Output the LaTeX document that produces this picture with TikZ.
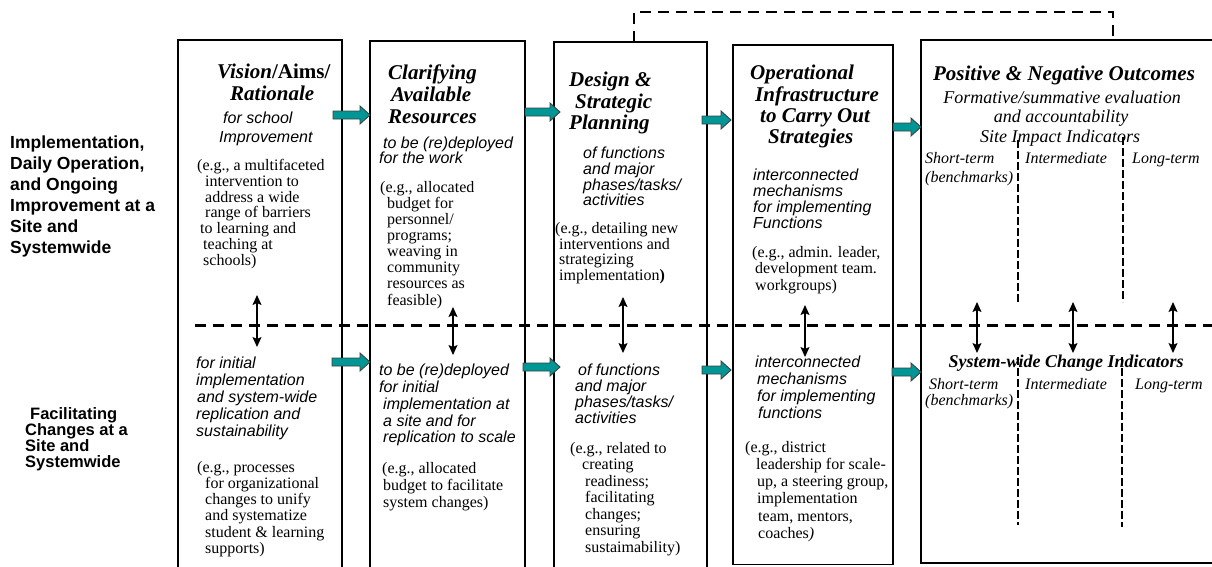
\documentclass[tikz,border=0pt]{standalone}
\usepackage{fontspec}
\setmainfont{Liberation Serif}
\setsansfont{Liberation Sans}
\usetikzlibrary{arrows.meta,calc}

\definecolor{arrowteal}{RGB}{0,150,150}

\tikzset{
  box/.style={draw, line width=1.6pt, inner sep=0pt, outer sep=0pt, anchor=north west},
  txt/.style={anchor=north west, inner sep=0pt, align=left,
    execute at begin node={\lineskiplimit=-30pt\relax}},
  head/.style={txt, font=\fontsize{21}{#1}\selectfont\rmfamily\bfseries\itshape},
  head/.default=21.5,
  sub/.style={txt, font=\fontsize{16}{#1}\selectfont\sffamily\itshape},
  sub/.default=16,
  eg/.style={txt, font=\fontsize{16}{#1}\selectfont\rmfamily},
  eg/.default=16,
  rowlab/.style={txt, font=\sffamily\bfseries},
  outhead/.style={inner sep=0pt, font=\fontsize{#1}{#1}\selectfont\rmfamily\bfseries\itshape},
  outc/.style={inner sep=0pt, font=\fontsize{18}{20}\selectfont\rmfamily\itshape},
  term/.style={anchor=base west, inner sep=0pt, font=\fontsize{16}{17}\selectfont\rmfamily\itshape},
  dbl/.style={line width=1.4pt,
    {Stealth[length=10pt,width=9pt,inset=2pt]}-{Stealth[length=10pt,width=9pt,inset=2pt]}},
  midline/.style={line width=3pt, dash pattern=on 11pt off 7pt},
  linkline/.style={line width=1.3pt, dash pattern=on 11pt off 7pt},
  colsep/.style={line width=1.5pt, dash pattern=on 8pt off 3pt},
  barrow/.style={draw=black!75, line width=0.9pt, fill=arrowteal, line join=miter},
}

% teal block arrow from the point #1 to the tip #2 (same height)
\newcommand\blockarrow[2]{%
  \draw[barrow] let \p1=#1, \p2=#2 in
    (\x1,\y1+4pt) -- (\x2-10pt,\y1+4pt) -- (\x2-10pt,\y1+9pt) -- (\x2,\y1)
    -- (\x2-10pt,\y1-9pt) -- (\x2-10pt,\y1-4pt) -- (\x1,\y1-4pt) -- cycle;}

\begin{document}
\begin{tikzpicture}[x=1pt, y=-1pt]
\useasboundingbox (0,0) rectangle (1212,566);
\fill[white] (0,0) rectangle (1212,566);
\begin{scope}
\clip (0,0) rectangle (1212,566);

% ---- column boxes
\node[box, minimum width=164, minimum height=532] (b1) at (178,40) {};
\node[box, minimum width=155, minimum height=531] (b2) at (370,41) {};
\node[box, minimum width=153, minimum height=530] (b3) at (554,42) {};
\node[box, minimum width=160, minimum height=519.5] (b4) at (733,45) {};
\node[box, minimum width=320, minimum height=523] (b5) at (921,40) {};

% ---- feedback link from outcomes back to planning
\coordinate (lk1) at (634,12);
\coordinate (lk2) at (1113,12);
\draw[linkline] (b3.north -| lk1) -- (lk1) -- (lk2) -- (b5.north -| lk2);

% ---- separation of the two rows
\draw[midline] (195,325) -- (1215,325);

% ---- term columns in the outcome box
\draw[colsep] (1018,140) -- (1018,303);
\draw[colsep] (1123,137) -- (1123,302);
\draw[colsep] (1018,357) -- (1018,525);
\draw[colsep] (1122,357) -- (1122,527);

% ---- row labels
\node[rowlab, font=\fontsize{17.5}{21}\selectfont\sffamily\bfseries] (lab1) at (10,136)
  {Implementation,\\Daily Operation,\\and Ongoing\\Improvement at a\\Site and\\Systemwide};
\node[rowlab, font=\fontsize{16.5}{16}\selectfont\sffamily\bfseries] (lab2) at (25,407)
  {\hspace*{5pt}Facilitating\\Changes at a\\Site and\\Systemwide};

% ---- column 1
\node[head] (h1) at (217,64) {Vision{\upshape/Aims/}\\\hspace*{13pt}Rationale};
\node[sub=19] (s1) at (219,112) {\hspace*{4pt}for school\\Improvement};
\node[eg=15.8] (e1) at (197,159)
  {(e.g., a multifaceted\\\hspace*{8pt}intervention to\\\hspace*{8pt}address a wide\\
   \hspace*{8pt}range of barriers\\\hspace*{3pt}to learning and\\\hspace*{6pt}teaching at\\
   \hspace*{6pt}schools)};
\node[sub=17] (s1b) at (196,357)
  {for initial\\implementation\\\hspace*{1pt}and system-wide\\replication and\\sustainability};
\node[eg=16.2] (e1b) at (197,461)
  {(e.g., processes\\\hspace*{8pt}for organizational\\\hspace*{8pt}changes to unify\\
   \hspace*{8pt}and systematize\\\hspace*{8pt}student \& learning\\\hspace*{8pt}supports)};

% ---- column 2
\node[head=22] (h2) at (388,65)
  {Clarifying\\\hspace*{3pt}Available\\Resources};
\node[sub=15] (s2) at (379,137) {\hspace*{4pt}to be (re)deployed\\for the work};
\node[eg=16.1] (e2) at (380,181)
  {(e.g., allocated\\\hspace*{7pt}budget for\\\hspace*{7pt}personnel/\\\hspace*{7pt}programs;\\
   \hspace*{7pt}weaving in\\\hspace*{7pt}community\\\hspace*{7pt}resources as\\\hspace*{7pt}feasible)};
\node[sub=16.75] (s2b) at (379,364)
  {to be (re)deployed\\for initial\\\hspace*{4pt}implementation at\\\hspace*{4pt}a site and for\\
   \hspace*{4pt}replication to scale};
\node[eg=17] (e2b) at (382,462)
  {(e.g., allocated\\\hspace*{1pt}budget to facilitate\\\hspace*{1pt}system changes)};

% ---- column 3
\node[head] (h3) at (569,72) {Design \&\\\hspace*{6pt}Strategic\\Planning};
\node[sub=15.7] (s3) at (583,147) {of functions\\and major\\phases/tasks/\\activities};
\node[eg=15.7] (e3) at (555,222)
  {(e.g., detailing new\\\hspace*{4pt}interventions and\\\hspace*{4pt}strategizing\\
   \hspace*{4pt}implementation\textbf{)}};
\node[sub=16] (s3b) at (575,364) {\hspace*{3pt}of functions\\and major\\phases/tasks/\\activities};
\node[eg=16.5] (e3b) at (570,442)
  {(e.g., related to\\\hspace*{12pt}creating\\\hspace*{15pt}readiness;\\\hspace*{15pt}facilitating\\
   \hspace*{15pt}changes;\\\hspace*{15pt}ensuring\\\hspace*{15pt}sustaimability)};

% ---- column 4
\node[head=21.3] (h4) at (750,65)
  {Operational\\\hspace*{5pt}Infrastructure\\\hspace*{10pt}to Carry Out\\\hspace*{18pt}Strategies};
\node[sub=16] (s4) at (753,169) {interconnected\\mechanisms\\for implementing\\Functions};
\node[eg=16.5] (e4) at (752,246)
  {(e.g., admin. leader,\\\hspace*{3pt}development team.\\\hspace*{3pt}workgroups)};
\node[sub=17] (s4b) at (755,356)
  {interconnected\\\hspace*{2pt}mechanisms\\\hspace*{2pt}for implementing\\\hspace*{3pt}functions};
\node[eg=17.2] (e4b) at (745,441)
  {(e.g., district\\\hspace*{11pt}leadership for scale-\\\hspace*{12pt}up, a steering group,\\
   \hspace*{12pt}implementation\\\hspace*{13pt}team, mentors,\\\hspace*{13pt}coaches\textit{)}};

% ---- column 5: outcomes
\node[outhead=21] (o1) at (1064,75) {Positive \& Negative Outcomes};
\node[outc] (o2) at (1062,97) {Formative/summative evaluation};
\node[outc] (o3) at (1061,118) {and accountability};
\node[outc] (o4) at (1060,138) {Site Impact Indicators};
\node[term] (t1) at (925,163) {Short-term};
\node[term] (t2) at (1025,163) {Intermediate};
\node[term] (t3) at (1132,163) {Long-term};
\node[term] (t4) at (925,182) {(benchmarks)};
\node[outhead=18] (o5) at (1066,363) {System-wide Change Indicators};
\node[term] (t5) at (929,389) {Short-term};
\node[term] (t6) at (1025,389) {Intermediate};
\node[term] (t7) at (1135,389) {Long-term};
\node[term] (t8) at (925,405) {(benchmarks)};

% ---- links between the two rows
\coordinate (v1t) at (257,295);  \coordinate (v1b) at (257,347);
\coordinate (v2t) at (453,307);  \coordinate (v2b) at (453,355);
\coordinate (v3t) at (623,297);  \coordinate (v3b) at (623,353);
\coordinate (v4t) at (805,305);  \coordinate (v4b) at (805,357);
\coordinate (v5t) at (977,302);  \coordinate (v5b) at (977,353);
\coordinate (v6t) at (1073,302); \coordinate (v6b) at (1073,353);
\coordinate (v7t) at (1173,302); \coordinate (v7b) at (1173,353);
\foreach \i in {1,...,7} \draw[dbl] (v\i t) -- (v\i b);

% ---- flow between the columns
\blockarrow{($(b1.east |- 0,115)+(-9,0)$)}{(b2.west |- 0,115)}
\blockarrow{(b2.east |- 0,112)}{($(b3.west |- 0,112)+(6,0)$)}
\blockarrow{($(b3.east |- 0,120)+(-5,0)$)}{($(b4.west |- 0,120)+(-2,0)$)}
\blockarrow{(b4.east |- 0,127)}{(b5.west |- 0,127)}
\blockarrow{($(b1.east |- 0,362)+(-10,0)$)}{(b2.west |- 0,362)}
\blockarrow{($(b2.east |- 0,367)+(-2,0)$)}{($(b3.west |- 0,367)+(6,0)$)}
\blockarrow{($(b3.east |- 0,370)+(-5,0)$)}{($(b4.west |- 0,370)+(-2,0)$)}
\blockarrow{($(b4.east |- 0,372)+(-1,0)$)}{(b5.west |- 0,372)}

\end{scope}
\end{tikzpicture}
\end{document}
